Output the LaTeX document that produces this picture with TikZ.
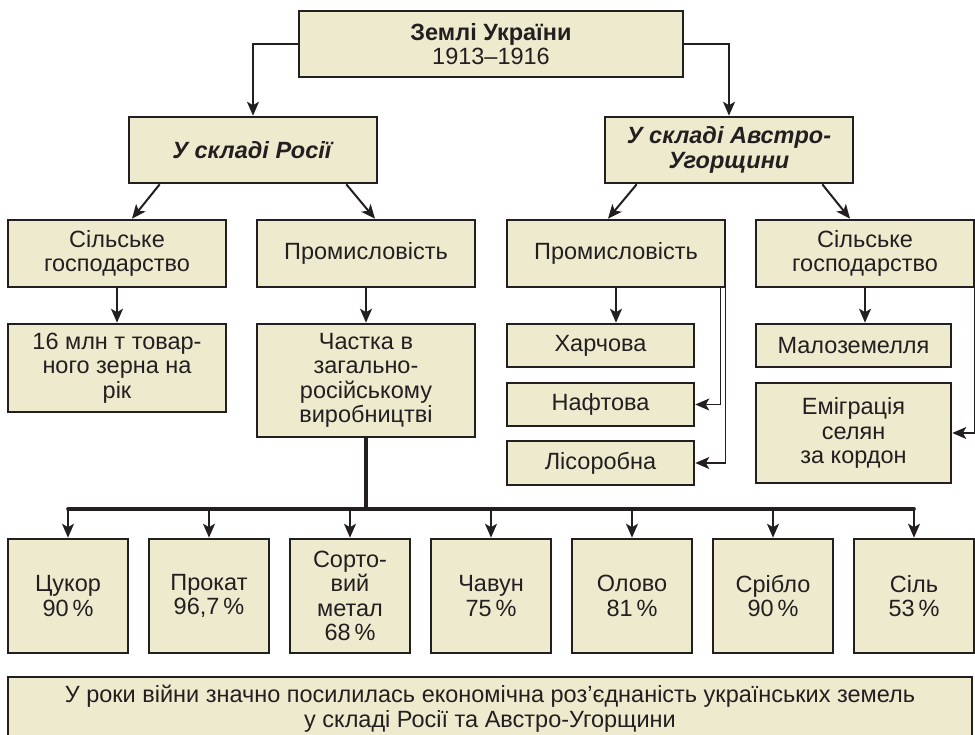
\documentclass[tikz,border=0pt]{standalone}
\usepackage{fontspec}
\setmainfont{Liberation Sans}
\usetikzlibrary{arrows.meta}

\definecolor{boxfill}{RGB}{238,234,206}
\definecolor{boxline}{RGB}{35,31,32}

\begin{document}
\begin{tikzpicture}[x=1pt, y=-1pt, >={Stealth[length=14pt,width=12pt,inset=3.5pt]},
  box/.style={draw=boxline, fill=boxfill, line width=2.6pt, align=center, inner sep=0pt,
    text=boxline, font=\fontsize{23.5}{24.5}\selectfont},
  arr/.style={->, draw=boxline, line width=2pt},
  thinarr/.style={->, draw=boxline, line width=1.3pt},
  trunk/.style={draw=boxline, line width=3.6pt}]
\useasboundingbox (0,0) rectangle (975,734);
\clip (0,0) rectangle (975,734);

\node [box, minimum width=384pt, minimum height=66pt] (zemli) at (491,44) {\textbf{Землі України}\\1913–1916};
\node [box, minimum width=248pt, minimum height=66pt] (rosia) at (253,150) {\textbf{\textit{У складі Росії}}};
\node [box, minimum width=248pt, minimum height=66pt] (avstria) at (729,150) {\textbf{\textit{У складі Австро-}}\\\textbf{\textit{Угорщини}}};

\node [box, minimum width=218pt, minimum height=67pt] (rusAgr) at (117,253.5) {Сільське\\господарство};
\node [box, minimum width=218pt, minimum height=67pt] (rusInd) at (366,253.5) {Промисловість};
\node [box, minimum width=218pt, minimum height=67pt] (avsInd) at (616,253.5) {Промисловість};
\node [box, minimum width=218pt, minimum height=67pt] (avsAgr) at (865,253.5) {Сільське\\господарство};

\node [box, minimum width=218pt, minimum height=88pt] (zerno) at (117,368) {16 млн т товар-\\ного зерна на\\рік};
\node [box, minimum width=218pt, minimum height=113pt] (chastka) at (366,380.5) {Частка в\\загально-\\російському\\виробництві};

\node [box, minimum width=187pt, minimum height=43pt] (harch) at (600.5,345.5) {Харчова};
\node [box, minimum width=187pt, minimum height=43pt] (naft) at (600.5,404.5) {Нафтова};
\node [box, minimum width=187pt, minimum height=44pt] (lis) at (600.5,463) {Лісоробна};
\node [box, minimum width=195pt, minimum height=43pt] (malo) at (853.5,345.5) {Малоземелля};
\node [box, minimum width=195pt, minimum height=100pt] (emig) at (853.5,433) {Еміграція\\селян\\за кордон};

\node [box, minimum width=120pt, minimum height=114pt] (metal1) at (68,596) {Цукор\\90\,\%};
\node [box, minimum width=120pt, minimum height=114pt] (metal2) at (209,596) {Прокат\\96,7\,\%};
\node [box, minimum width=120pt, minimum height=114pt] (metal3) at (350,596) {Сорто-\\вий\\метал\\68\,\%};
\node [box, minimum width=120pt, minimum height=114pt] (metal4) at (491,596) {Чавун\\75\,\%};
\node [box, minimum width=120pt, minimum height=114pt] (metal5) at (632,596) {Олово\\81\,\%};
\node [box, minimum width=120pt, minimum height=114pt] (metal6) at (773,596) {Срібло\\90\,\%};
\node [box, minimum width=120pt, minimum height=114pt] (metal7) at (914,596) {Сіль\\53\,\%};

\draw [draw=boxline, fill=boxfill, line width=2.6pt] (8,677) rectangle (972,770);
\node [box, draw=none, fill=none] (pidsumok) at (490,708.5) {У роки війни значно посилилась економічна роз’єднаність українських земель\\у складі Росії та Австро-Угорщини};

\draw [arr] (zemli.west) -| (rosia.north);
\draw [arr] (zemli.east) -| (avstria.north);
\draw [arr] ([xshift=32pt]rosia.south west) -- ([xshift=15pt]rusAgr.north);
\draw [arr] ([xshift=-32pt]rosia.south east) -- ([xshift=9pt]rusInd.north);
\draw [arr] ([xshift=33pt]avstria.south west) -- ([xshift=-8pt]avsInd.north);
\draw [arr] ([xshift=-32pt]avstria.south east) -- ([xshift=-15pt]avsAgr.north);

\draw [arr] (rusAgr.south) -- (zerno.north);
\draw [arr] (rusInd.south) -- (chastka.north);
\draw [arr] (avsInd.south) -- (avsInd.south |- harch.north);
\draw [thinarr] ([xshift=-6pt]avsInd.south east) |- (naft.east);
\draw [thinarr] ([xshift=-1pt]avsInd.south east) |- (lis.east);
\draw [arr] (avsAgr.south) -- (avsAgr.south |- malo.north);
\draw [thinarr] ([xshift=-1pt]avsAgr.south east) |- (emig.east);

\coordinate (shyna) at (366,509);
\draw [trunk] (chastka.south) -- (shyna);
\draw [trunk, line cap=round] (metal1.north |- shyna) -- (metal7.north |- shyna);
\draw [arr] (metal1.north |- shyna) -- (metal1.north);
\draw [arr] (metal2.north |- shyna) -- (metal2.north);
\draw [arr] (metal3.north |- shyna) -- (metal3.north);
\draw [arr] (metal4.north |- shyna) -- (metal4.north);
\draw [arr] (metal5.north |- shyna) -- (metal5.north);
\draw [arr] (metal6.north |- shyna) -- (metal6.north);
\draw [arr] (metal7.north |- shyna) -- (metal7.north);
\end{tikzpicture}
\end{document}
